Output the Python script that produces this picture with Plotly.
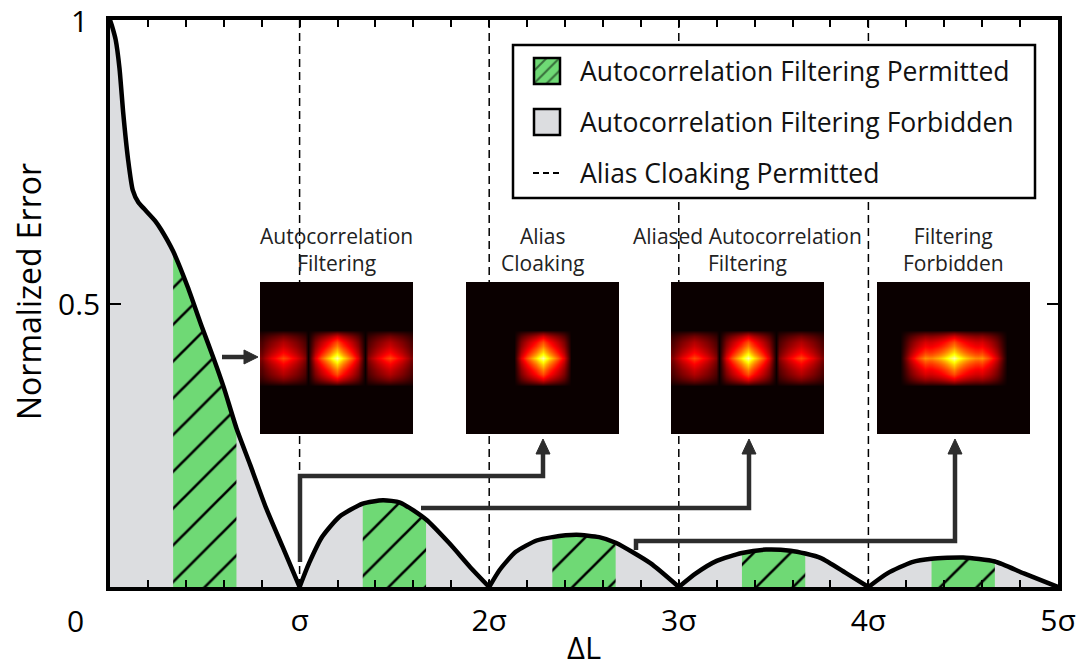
import plotly.graph_objects as go

# ---------------- data ----------------
# Normalized error vs. ΔL (in units of σ)
dl = [0, 0.01, 0.03, 0.05, 0.07, 0.095, 0.12, 0.15, 0.18, 0.24, 0.27, 0.333, 0.41, 0.48, 0.55, 0.6, 0.667,
      0.74, 0.82, 0.91, 1.0,
      1.05, 1.12, 1.21, 1.333, 1.44, 1.53, 1.667, 1.79, 1.9, 2.0,
      2.055, 2.14, 2.25, 2.333, 2.46, 2.58, 2.667, 2.85, 3.0,
      3.09, 3.2, 3.333, 3.46, 3.59, 3.667, 3.75, 3.88, 4.0,
      4.1, 4.23, 4.333, 4.5, 4.667, 4.82, 5.0]
err = [1.0, 0.99, 0.965, 0.915, 0.835, 0.755, 0.70, 0.678, 0.667, 0.645, 0.63, 0.592, 0.529, 0.463, 0.400, 0.352, 0.28,
       0.215, 0.142, 0.071, 0.0,
       0.042, 0.089, 0.124, 0.147, 0.153, 0.149, 0.119, 0.077, 0.035, 0.0,
       0.030, 0.062, 0.082, 0.088, 0.092, 0.088, 0.078, 0.042, 0.0,
       0.024, 0.046, 0.060, 0.066, 0.064, 0.059, 0.051, 0.025, 0.0,
       0.024, 0.044, 0.050, 0.052, 0.045, 0.024, 0.0]

permit_start = [0.333, 1.333, 2.333, 3.333, 4.333]
permit_end = [0.667, 1.667, 2.667, 3.667, 4.667]
cloak_lines = [1, 2, 3, 4]

x_tick_vals = [1, 2, 3, 4, 5]
x_tick_text = ["σ", "2σ", "3σ", "4σ", "5σ"]
y_tick_vals = [0.5, 1]
y_tick_text = ["0.5", "1"]

legend_labels = ["Autocorrelation Filtering Permitted",
                 "Autocorrelation Filtering Forbidden",
                 "Alias Cloaking Permitted"]
inset_titles = ["Autocorrelation<br>Filtering", "Alias<br>Cloaking",
                "Aliased Autocorrelation<br>Filtering", "Filtering<br>Forbidden"]

# inset intensity profiles (horizontal and vertical, 49 samples across each image)
h_autocorr = [0.20, 0.26, 0.31, 0.36, 0.40, 0.44, 0.48, 0.52, 0.48, 0.44, 0.40, 0.36, 0.31, 0.26, 0.20,
              0,
              0.20, 0.35, 0.45, 0.54, 0.62, 0.70, 0.78, 0.88, 1.00, 0.88, 0.78, 0.70, 0.62, 0.54, 0.45, 0.35, 0.20,
              0,
              0.20, 0.26, 0.31, 0.36, 0.40, 0.44, 0.48, 0.52, 0.48, 0.44, 0.40, 0.36, 0.31, 0.26, 0.20]
h_cloak = [0, 0, 0, 0, 0, 0, 0, 0, 0, 0, 0, 0, 0, 0, 0, 0,
           0.20, 0.35, 0.45, 0.54, 0.62, 0.70, 0.78, 0.88, 1.00, 0.88, 0.78, 0.70, 0.62, 0.54, 0.45, 0.35, 0.20,
           0, 0, 0, 0, 0, 0, 0, 0, 0, 0, 0, 0, 0, 0, 0, 0]
h_aliased = [0.20, 0.26, 0.31, 0.36, 0.40, 0.44, 0.48, 0.52, 0.48, 0.44, 0.40, 0.36, 0.31, 0.26, 0.20,
             0,
             0.20, 0.35, 0.45, 0.54, 0.62, 0.70, 0.78, 0.88, 1.00, 0.88, 0.78, 0.70, 0.62, 0.54, 0.45, 0.35, 0.20,
             0,
             0.20, 0.26, 0.31, 0.36, 0.40, 0.44, 0.48, 0.52, 0.48, 0.44, 0.40, 0.36, 0.31, 0.26, 0.20]
h_forbidden = [0, 0, 0, 0, 0, 0, 0, 0,
               0.12, 0.22, 0.32, 0.40, 0.47, 0.53, 0.58, 0.64, 0.62, 0.63, 0.66, 0.69, 0.73, 0.78, 0.84, 0.91,
               1.00,
               0.91, 0.84, 0.78, 0.73, 0.69, 0.66, 0.63, 0.62, 0.64, 0.58, 0.53, 0.47, 0.40, 0.32, 0.22, 0.12,
               0, 0, 0, 0, 0, 0, 0, 0]
v_profile = [0, 0, 0, 0, 0, 0, 0, 0, 0, 0, 0, 0, 0, 0, 0, 0,
             0.18, 0.33, 0.44, 0.53, 0.61, 0.69, 0.77, 0.87, 1.00, 0.87, 0.77, 0.69, 0.61, 0.53, 0.44, 0.33, 0.18,
             0, 0, 0, 0, 0, 0, 0, 0, 0, 0, 0, 0, 0, 0, 0, 0]
inset_profiles = [h_autocorr, h_cloak, h_aliased, h_forbidden]

# ---------------- styling / layout helpers ----------------
W, H = 1090, 671
ML, MR, MT, MB = 110, 32, 20, 84
PW, PH = W - ML - MR, H - MT - MB
GREEN = "#6fd975"
GRAY = "#dcdde0"
ARROW = "#2d2d2d"
FONT = "Open Sans"


def px(x):
    return (x - ML) / PW


def py(y):
    return (H - MB - y) / PH


def dx(x):  # pixel -> main x-axis units
    return px(x) * 5


def dy(y):  # pixel -> main y-axis units
    return py(y)


fig = go.Figure()

# split curve into lobes at the zeros
segs = []
start = 0
for i in range(1, len(dl)):
    if err[i] == 0:
        segs.append((dl[start:i + 1], err[start:i + 1]))
        start = i

# gray fill (forbidden)
for sx, sy in segs:
    fig.add_trace(go.Scatter(x=sx, y=sy, mode="lines", line=dict(width=0, shape="spline", smoothing=0.6),
                             fill="tozeroy", fillcolor=GRAY, hoverinfo="skip"))

# green hatched bands (permitted)
for a, b in zip(permit_start, permit_end):
    bx = [x for x in dl if a - 1e-9 <= x <= b + 1e-9]
    by = [err[dl.index(x)] for x in bx]
    fig.add_trace(go.Scatter(x=bx, y=by, mode="lines", line=dict(width=0, shape="spline", smoothing=0.6),
                             fill="tozeroy", fillcolor=GREEN,
                             fillpattern=dict(shape="/", bgcolor=GREEN, fgcolor="black", fgopacity=1,
                                              size=26, solidity=0.1),
                             hoverinfo="skip"))

# black curve
for sx, sy in segs:
    fig.add_trace(go.Scatter(x=sx, y=sy, mode="lines",
                             line=dict(color="black", width=4.5, shape="spline", smoothing=0.6),
                             hoverinfo="skip"))

# inset heatmaps
inset_left = [260, 466, 671, 877]
inset_w = 153
inset_top, inset_bot = 282, 434
cscale = [[0, "rgb(10,0,0)"], [0.365, "rgb(255,0,0)"], [0.746, "rgb(255,255,0)"], [1, "rgb(255,255,255)"]]
for k, (hp, x0) in enumerate(zip(inset_profiles, inset_left)):
    n = k + 2
    z = [[vv * hh for hh in hp] for vv in v_profile]
    fig.add_trace(go.Heatmap(z=z, x=list(range(len(hp))), y=list(range(len(v_profile))),
                             colorscale=cscale, zmin=0, zmax=1.1, zsmooth="best", showscale=False,
                             xaxis=f"x{n}", yaxis=f"y{n}", hoverinfo="skip"))
    fig.update_layout(**{
        f"xaxis{n}": dict(domain=[px(x0), px(x0 + inset_w)], anchor=f"y{n}", visible=False,
                          range=[-0.5, len(hp) - 0.5], fixedrange=True),
        f"yaxis{n}": dict(domain=[py(inset_bot), py(inset_top)], anchor=f"x{n}", visible=False,
                          range=[-0.5, len(v_profile) - 0.5], fixedrange=True),
    })

# legend hatched patch
fig.add_trace(go.Bar(x=[0], y=[1], width=[1], xaxis="x6", yaxis="y6",
                     marker=dict(color=GREEN, line=dict(width=0),
                                 pattern=dict(shape="/", bgcolor=GREEN, fgcolor="black", size=9, solidity=0.22)),
                     hoverinfo="skip"))
fig.update_layout(
    xaxis6=dict(domain=[px(534), px(560)], anchor="y6", visible=False, range=[-0.5, 0.5], fixedrange=True),
    yaxis6=dict(domain=[py(84), py(58)], anchor="x6", visible=False, range=[0, 1], fixedrange=True),
)

shapes = []
# alias cloaking dashed lines
for c in cloak_lines:
    shapes.append(dict(type="line", xref="x", yref="y", x0=c, x1=c, y0=0, y1=1, layer="below",
                       line=dict(color="black", width=1.5, dash="8px,5px")))
# legend box (white, covers dashed lines)
shapes.append(dict(type="rect", xref="x", yref="y", x0=dx(513), x1=dx(1035), y0=dy(198), y1=dy(45),
                   layer="below", line=dict(color="black", width=2.5), fillcolor="white"))
# legend patches
shapes.append(dict(type="rect", xref="paper", yref="paper", x0=px(534), x1=px(560), y0=py(84), y1=py(58),
                   layer="above", line=dict(color="black", width=2.5), fillcolor="rgba(0,0,0,0)"))
shapes.append(dict(type="rect", xref="paper", yref="paper", x0=px(534), x1=px(560), y0=py(135), y1=py(109),
                   layer="above", line=dict(color="black", width=2.5), fillcolor=GRAY))
shapes.append(dict(type="line", xref="paper", yref="paper", x0=px(533), x1=px(559), y0=py(173), y1=py(173),
                   layer="above", line=dict(color="black", width=2, dash="6px,4px")))


def poly(points):
    d = "M " + " L ".join(f"{px(a):.5f},{py(b):.5f}" for a, b in points)
    return dict(type="path", xref="paper", yref="paper", path=d, layer="above",
                line=dict(color=ARROW, width=4.5))


def head(tx, ty, direction):
    if direction == "up":
        pts = [(tx, ty), (tx - 7, ty + 15), (tx + 7, ty + 15)]
    else:
        pts = [(tx, ty), (tx - 14, ty - 7), (tx - 14, ty + 7)]
    d = "M " + " L ".join(f"{px(a):.5f},{py(b):.5f}" for a, b in pts) + " Z"
    return dict(type="path", xref="paper", yref="paper", path=d, layer="above",
                line=dict(color=ARROW, width=1), fillcolor=ARROW)


shapes += [
    poly([(222, 357), (246, 357)]), head(258, 357, "right"),
    poly([(300, 562), (300, 476), (543, 476), (543, 452)]), head(543, 439, "up"),
    poly([(421, 508), (749, 508), (749, 452)]), head(749, 439, "up"),
    poly([(636, 550), (636, 541), (955, 541), (955, 452)]), head(955, 439, "up"),
]

annotations = []
# legend texts
for lab, yy in zip(legend_labels, [71, 122, 173]):
    annotations.append(dict(text=lab, xref="paper", yref="paper", x=px(578), y=py(yy), xanchor="left",
                            yanchor="middle", showarrow=False, font=dict(family=FONT, size=26.5, color="#111")))
# inset titles
for t, x0 in zip(inset_titles, inset_left):
    annotations.append(dict(text=t, xref="paper", yref="paper", x=px(x0 + inset_w / 2), y=py(279),
                            xanchor="center", yanchor="bottom", showarrow=False,
                            font=dict(family=FONT, size=21, color="#222")))
# y tick labels and origin label
for v, t in zip(y_tick_vals, y_tick_text):
    annotations.append(dict(text=t, xref="paper", yref="y", x=px(79), y=v, xanchor="center", yanchor="middle",
                            showarrow=False, font=dict(family=FONT, size=30, color="black")))
annotations.append(dict(text="0", xref="paper", yref="paper", x=px(75), y=py(621), xanchor="center",
                        yanchor="middle", showarrow=False, font=dict(family=FONT, size=30, color="black")))
# axis titles
annotations.append(dict(text="Normalized Error", xref="paper", yref="paper", x=px(28), y=py(292),
                        textangle=-90, xanchor="center", yanchor="middle", showarrow=False,
                        font=dict(family=FONT, size=32, color="black")))
annotations.append(dict(text="ΔL", xref="paper", yref="paper", x=0.5, y=py(670), xanchor="center",
                        yanchor="bottom", showarrow=False, font=dict(family=FONT, size=31, color="black")))

fig.update_layout(
    width=W, height=H, margin=dict(l=ML, r=MR, t=MT, b=MB),
    paper_bgcolor="white", plot_bgcolor="rgba(0,0,0,0)", showlegend=False,
    font=dict(family=FONT, color="black"),
    xaxis=dict(range=[0, 5], tickvals=x_tick_vals, ticktext=x_tick_text, ticks="inside", ticklen=7,
               tickwidth=1.5, tickcolor="black", showline=True, linewidth=4, linecolor="black", mirror="ticks",
               showgrid=False, zeroline=False, tickfont=dict(family=FONT, size=30, color="black"),
               ticklabelstandoff=4, fixedrange=True,
               minor=dict(tick0=0, dtick=0.2, ticks="inside", ticklen=7, tickwidth=1.5, tickcolor="black")),
    yaxis=dict(range=[0, 1], tickvals=[0.5], ticks="inside", ticklen=11, tickwidth=1.5, tickcolor="black",
               showticklabels=False, showline=True, linewidth=4, linecolor="black", mirror="ticks",
               showgrid=False, zeroline=False, fixedrange=True),
    shapes=shapes, annotations=annotations,
)

fig.write_html("out.html")
